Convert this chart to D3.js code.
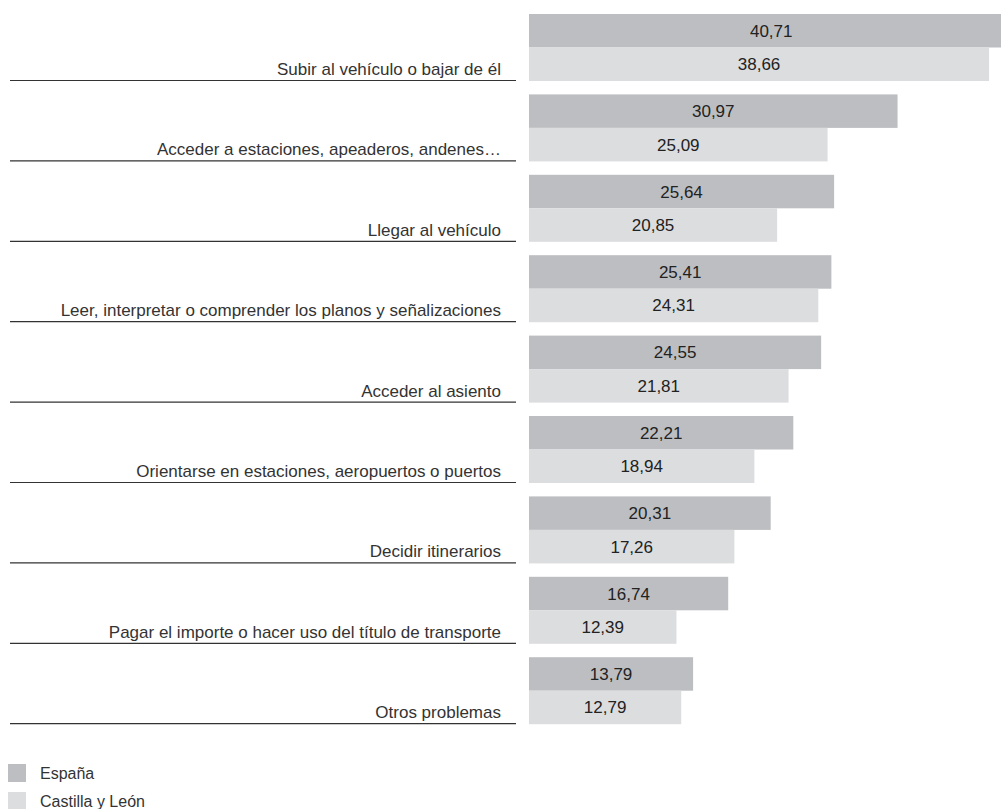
<!DOCTYPE html>
<html>
<head>
<meta charset="utf-8">
<script src="https://cdn.jsdelivr.net/npm/d3@7"></script>
<style>
  body { margin: 0; background: #fff; }
  svg { display: block; font-family: "Liberation Sans", Arial, sans-serif; }
</style>
</head>
<body>
<svg id="chart" width="1001" height="809"></svg>
<script>
// Problem categories (top to bottom)
const categories = [
    'Subir al vehículo o bajar de él',
    'Acceder a estaciones, apeaderos, andenes…',
    'Llegar al vehículo',
    'Leer, interpretar o comprender los planos y señalizaciones',
    'Acceder al asiento',
    'Orientarse en estaciones, aeropuertos o puertos',
    'Decidir itinerarios',
    'Pagar el importe o hacer uso del título de transporte',
    'Otros problemas'
];
const series = ['España', 'Castilla y León'];
const espana = [40.71, 30.97, 25.64, 25.41, 24.55, 22.21, 20.31, 16.74, 13.79];
const castilla = [38.66, 25.09, 20.85, 24.31, 21.81, 18.94, 17.26, 12.39, 12.79];

const colors = { 'España': '#bdbec1', 'Castilla y León': '#dcdddf' };

const svg = d3.select('#chart');

const data = categories.map((c, i) => ({
    category: c,
    values: [
        { series: 'España', value: espana[i] },
        { series: 'Castilla y León', value: castilla[i] }
    ]
}));

// Scales
const x = d3.scaleLinear().domain([0, 40]).range([529, 529 + 476]);
const y = d3.scaleBand()
    .domain(categories)
    .range([14, 724.2])
    .paddingInner(0.1667)
    .paddingOuter(0);
const ySub = d3.scaleBand().domain(series).range([0, y.bandwidth()]);

const fmt = d3.formatLocale({ decimal: ',', thousands: '.', grouping: [3], currency: ['', '€'] }).format('.2f');

const groups = svg.selectAll('.group')
    .data(data)
    .join('g')
    .attr('class', 'group')
    .attr('transform', d => `translate(0,${y(d.category)})`);

// Category labels with underline
groups.append('line')
    .attr('x1', 10)
    .attr('x2', 516)
    .attr('y1', y.bandwidth() - 0.5)
    .attr('y2', y.bandwidth() - 0.5)
    .attr('stroke', '#333')
    .attr('stroke-width', 1.2);

groups.append('text')
    .attr('x', 501)
    .attr('y', y.bandwidth() - 6)
    .attr('text-anchor', 'end')
    .style('font-size', '17px')
    .style('fill', '#333')
    .text(d => d.category);

// Bars
groups.selectAll('rect')
    .data(d => d.values)
    .join('rect')
    .attr('x', x(0))
    .attr('y', d => ySub(d.series))
    .attr('width', d => x(d.value) - x(0))
    .attr('height', ySub.bandwidth())
    .attr('fill', d => colors[d.series]);

// Value labels centred in bars
groups.selectAll('.val')
    .data(d => d.values)
    .join('text')
    .attr('class', 'val')
    .attr('x', d => (x(0) + x(d.value)) / 2)
    .attr('y', d => ySub(d.series) + ySub.bandwidth() / 2 + 6)
    .attr('text-anchor', 'middle')
    .style('font-size', '17px')
    .style('fill', '#222')
    .text(d => fmt(d.value));

// Legend
const legend = svg.append('g').attr('transform', 'translate(8,764)');
series.forEach((s, i) => {
    const item = legend.append('g').attr('transform', `translate(0,${i * 28})`);
    item.append('rect')
        .attr('width', 18)
        .attr('height', 18)
        .attr('fill', colors[s]);
    item.append('text')
        .attr('x', 32)
        .attr('y', 15)
        .style('font-size', '16px')
        .style('fill', '#333')
        .text(s);
});
</script>
</body>
</html>
